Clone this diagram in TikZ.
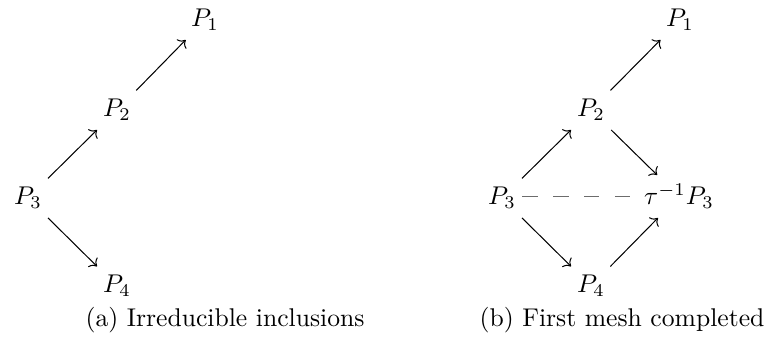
\documentclass[tikz,border=0pt]{standalone}
\usetikzlibrary{arrows.meta}
\begin{document}
\begin{tikzpicture}[x=0.39pt,y=-0.39pt,
  obj/.style={anchor=base,inner sep=0.3333em},
  captext/.style={anchor=base,inner sep=0pt},
  arr/.style={-{Computer Modern Rightarrow},line width=0.4pt},
  mesh/.style={gray!85!black,dash pattern=on 6pt off 6pt,line width=0.45pt}]
\useasboundingbox (0,0) rectangle (767,340);
% (a)
\node[obj] (a1) at (205,27) {$P_1$};
\node[obj] (a2) at (117,117) {$P_2$};
\node[obj] (a3) at (28,205) {$P_3$};
\node[obj] (a4) at (117,293) {$P_4$};
\draw[arr] (a3) -- (a2);
\draw[arr] (a2) -- (a1);
\draw[arr] (a3) -- (a4);
\node[captext] (capa) at (225,327) {(a) Irreducible inclusions};
% (b)
\node[obj] (b1) at (680,27) {$P_1$};
\node[obj] (b2) at (591,117) {$P_2$};
\node[obj] (b3) at (502,205) {$P_3$};
\node[obj] (bt) at (679,205) {$\tau^{-1}P_3$};
\node[obj] (b4) at (591,293) {$P_4$};
\draw[arr] (b3) -- (b2);
\draw[arr] (b2) -- (b1);
\draw[arr] (b3) -- (b4);
\draw[arr] (b2) -- (bt);
\draw[arr] (b4) -- (bt);
\coordinate (dashend) at ([xshift=-1pt]bt.west);
\draw[mesh] (dashend -| b3.east) ++(-1pt,0) -- ++(108,0);
\node[captext] (capb) at (622,327) {(b) First mesh completed};
\end{tikzpicture}
\end{document}
